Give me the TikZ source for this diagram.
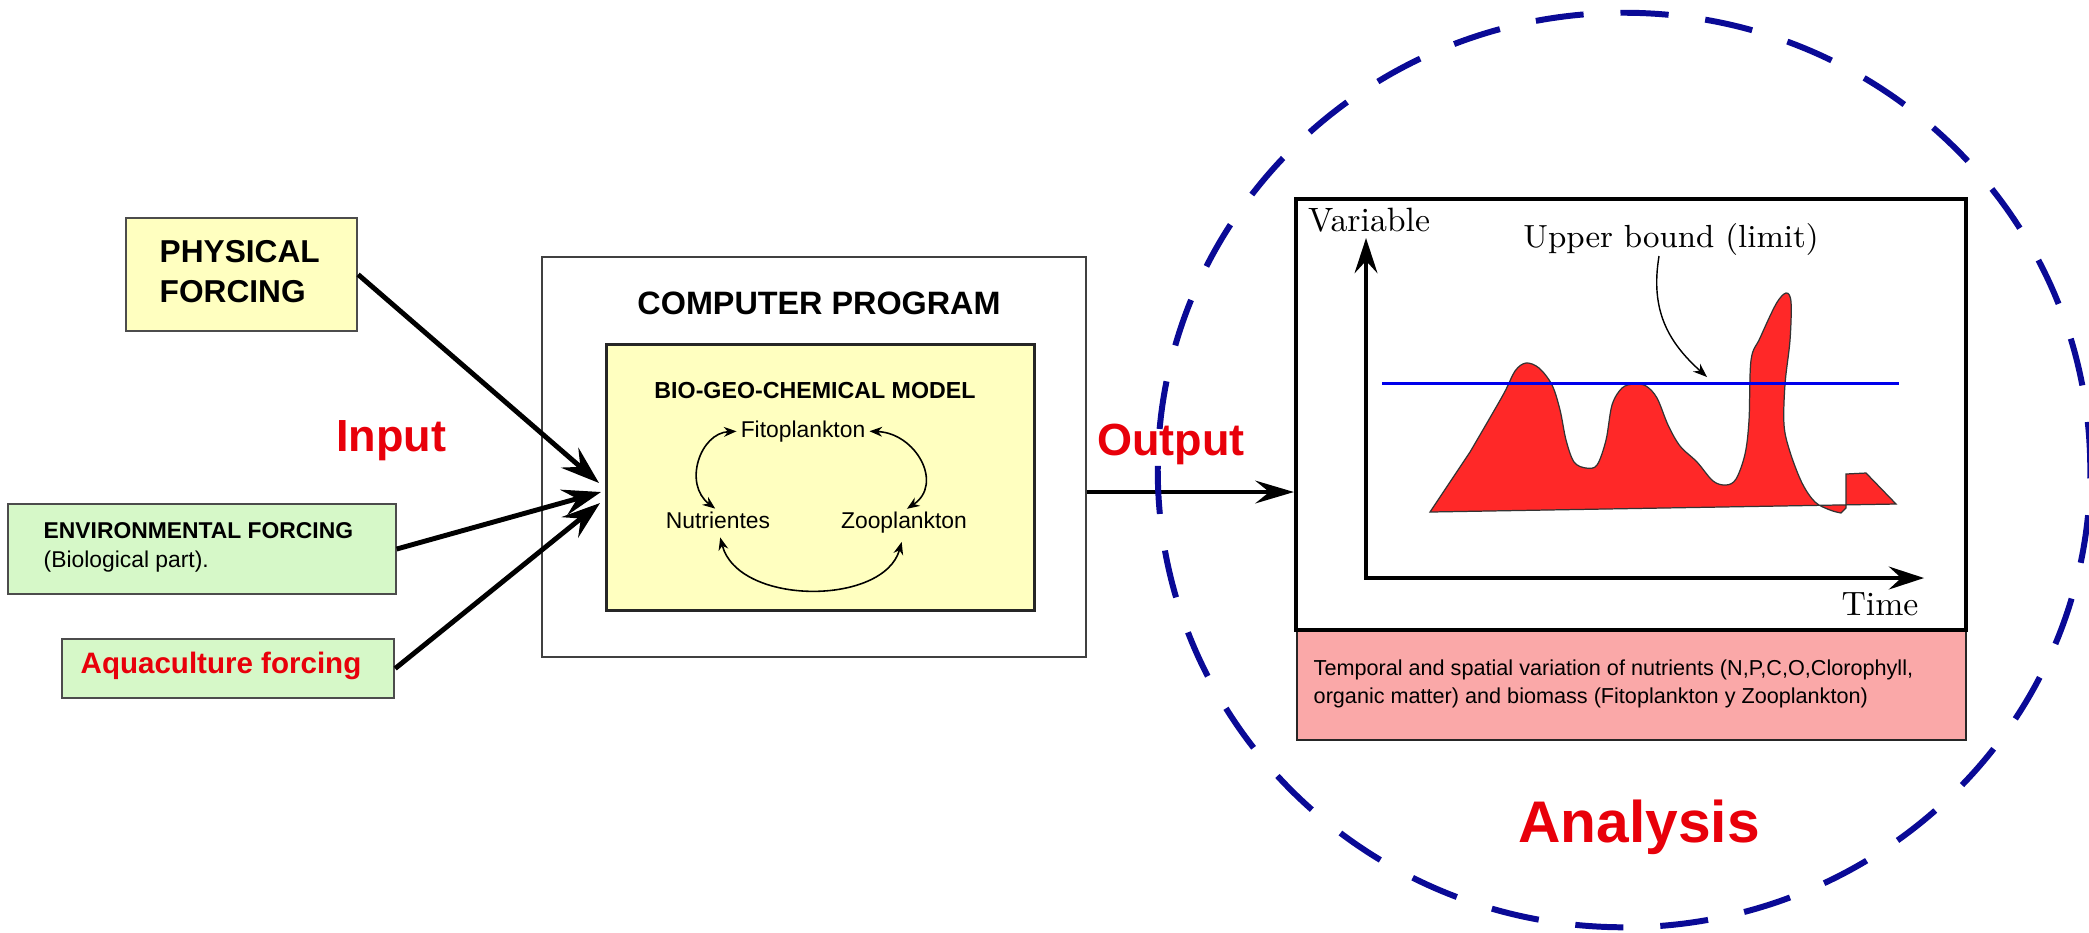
\documentclass[tikz,border=0pt]{standalone}
\usepackage{fontspec}
\newfontfamily\lsans{Liberation Sans}
\usetikzlibrary{arrows.meta}
\definecolor{yfill}{RGB}{255,255,192}
\definecolor{gfill}{RGB}{214,248,200}
\definecolor{pfill}{RGB}{250,168,168}
\definecolor{redtxt}{RGB}{232,0,10}
\definecolor{redarea}{RGB}{255,40,40}
\definecolor{navy}{RGB}{10,10,150}
\definecolor{limitblue}{RGB}{0,0,235}
\begin{document}
\begin{tikzpicture}[x=0.01cm,y=-0.01cm,
  box/.style={draw=black!70, line width=0.6pt, inner sep=0pt},
  sbold/.style={inner sep=0pt, font=\lsans\bfseries\fontsize{#1}{#1}\selectfont},
  sreg/.style={inner sep=0pt, font=\lsans\fontsize{#1}{#1}\selectfont},
  serif/.style={inner sep=0pt, font=\fontsize{#1}{#1}\selectfont},
  inarrow/.style={line width=1.4pt, -{Stealth[length=11pt,width=7.5pt,inset=4pt]}},
  outarrow/.style={line width=1pt, -{Stealth[length=11pt,width=6.5pt,inset=4pt]}},
  cyc/.style={line width=0.45pt, {Stealth[length=3.6pt,width=2.8pt]}-{Stealth[length=3.6pt,width=2.8pt]}, shorten <=1pt, shorten >=1pt},
  axis/.style={line width=1.1pt, {Stealth[length=10pt,width=6.5pt,inset=3.5pt]}-{Stealth[length=10pt,width=6.5pt,inset=3.5pt]}}
]
\useasboundingbox (0,0) rectangle (2089,932);

% left inputs
\node[box, fill=yfill, minimum width=2.31cm, minimum height=1.13cm] (phys) at (241.5,274.5) {};
\node[sbold=9, anchor=base west] (physA) at (159,262) {PHYSICAL};
\node[sbold=9, anchor=base west] (physB) at (159,302) {FORCING};
\node[box, fill=gfill, minimum width=3.875cm, minimum height=0.90cm] (env) at (201.75,549) {};
\node[sbold=6.5, anchor=base west] (envA) at (43,538) {ENVIRONMENTAL FORCING};
\node[sreg=6.5, anchor=base west] (envB) at (43,567) {(Biological part).};
\node[box, fill=gfill, minimum width=3.315cm, minimum height=0.59cm] (aqua) at (228.25,668.5) {};
\node[sbold=8.4, text=redtxt, anchor=base] (aquaT) at (221,673) {Aquaculture forcing};
\node[sbold=12.8, text=redtxt, anchor=base] (input) at (391,451) {Input};

% computer program
\node[draw=black!75, line width=0.45pt, fill=white, minimum width=5.44cm, minimum height=4.0cm, inner sep=0pt] (comp) at (814,457) {};
\node[sbold=9.2, anchor=base] (compT) at (819,314) {COMPUTER PROGRAM};
\node[draw=black!85, line width=0.85pt, fill=yfill, minimum width=4.27cm, minimum height=2.65cm, inner sep=0pt] (bio) at (820.5,477.5) {};
\node[sbold=6.6, anchor=base] (bioT) at (815,398) {BIO-GEO-CHEMICAL MODEL};
\node[sreg=6.5, anchor=base] (fito) at (803,437) {Fitoplankton};
\node[sreg=6.5, anchor=base] (nutr) at (718,528) {Nutrientes};
\node[sreg=6.5, anchor=base] (zoo) at (904,528) {Zooplankton};

\draw[cyc] (fito.west) .. controls (700,433) and (683,484) .. (nutr.north);
\draw[cyc] (fito.east) .. controls (916,433) and (944,484) .. (zoo.north);
\draw[cyc, shorten <=2.5pt, shorten >=2.5pt] (nutr.south) .. controls (738,606) and (884,606) .. (zoo.south);

% input arrows
\coordinate (tA) at (599,483);
\coordinate (tB) at (601,492);
\coordinate (tC) at (600,503);
\draw[inarrow] (phys.east) -- (tA);
\draw[inarrow] (env.east) -- (tB);
\draw[inarrow] (aqua.east) -- (tC);

% graph
\node[draw=black!85, line width=0.7pt, fill=pfill, minimum width=6.69cm, minimum height=1.10cm, inner sep=0pt] (pink) at (1631.5,685) {};
\node[draw=black, line width=1.1pt, fill=white, minimum width=6.70cm, minimum height=4.31cm, inner sep=0pt] (graph) at (1631,414.5) {};
\node[sreg=6.15, anchor=base west] (pinkA) at (1313,675) {Temporal and spatial variation of nutrients (N,P,C,O,Clorophyll,};
\node[sreg=6.15, anchor=base west] (pinkB) at (1313,703) {organic matter) and biomass (Fitoplankton y Zooplankton)};

\filldraw[fill=redarea, draw=black!80, line width=0.35pt]
  (1430,512) -- (1470,452) -- 
  plot[smooth, tension=0.55] coordinates {(1470,452) (1503,395) (1515,371) (1526,363) (1539,368) (1552,385) (1560,410) (1566,440) (1574,462) (1586,468) (1597,465) (1606,440) (1612,405) (1622,388) (1634,384) (1646,386) (1657,398) (1668,425) (1680,446) (1697,462) (1713,481) (1726,485) (1736,479) (1745,454) (1749,420) (1751,360) (1760,338) (1776,304) (1786,293) (1791,302) (1790,340) (1785,384) (1784,425) (1790,452) (1802,483) (1815,502) (1830,510) (1841,513)}
  -- (1846,508) -- (1846,474) -- (1866,473) -- (1896,504) -- cycle;

\coordinate (bl1) at (1382,383.5);
\coordinate (bl2) at (1899,383.5);
\draw[limitblue, line width=1.1pt] (bl1) -- (bl2);

\coordinate (O) at (1366,578);
\coordinate (Ytop) at (1366,238);
\coordinate (Xend) at (1924,578);
\draw[axis] (Ytop) -- (O) -- (Xend);

\node[serif=9.6, anchor=base] (var) at (1369,231) {Variable};
\node[serif=9.1, anchor=base] (ub) at (1671,247) {Upper bound (limit)};
\node[serif=9.6, anchor=base] (time) at (1880,615) {Time};
\coordinate (ubS) at (1659,256);
\coordinate (ubE) at (1707,377);
\draw[line width=0.4pt, -{Stealth[length=4pt,width=3pt]}] (ubS) .. controls (1650,310) and (1668,342) .. (ubE);

% output
\path (comp.east) ++(0,35) coordinate (outA);
\draw[outarrow] (outA) -- (outA -| graph.west);
\node[sbold=12.8, text=redtxt, anchor=base] (output) at (1171,455) {Output};
\node[sbold=16.7, text=redtxt, anchor=base] (analysis) at (1639,842) {Analysis};

% analysis circle
\draw[navy, line width=1.7pt, dash pattern=on 13.7pt off 10.5pt] (1624,470) ellipse [x radius=4.66cm, y radius=4.57cm];
\end{tikzpicture}
\end{document}
